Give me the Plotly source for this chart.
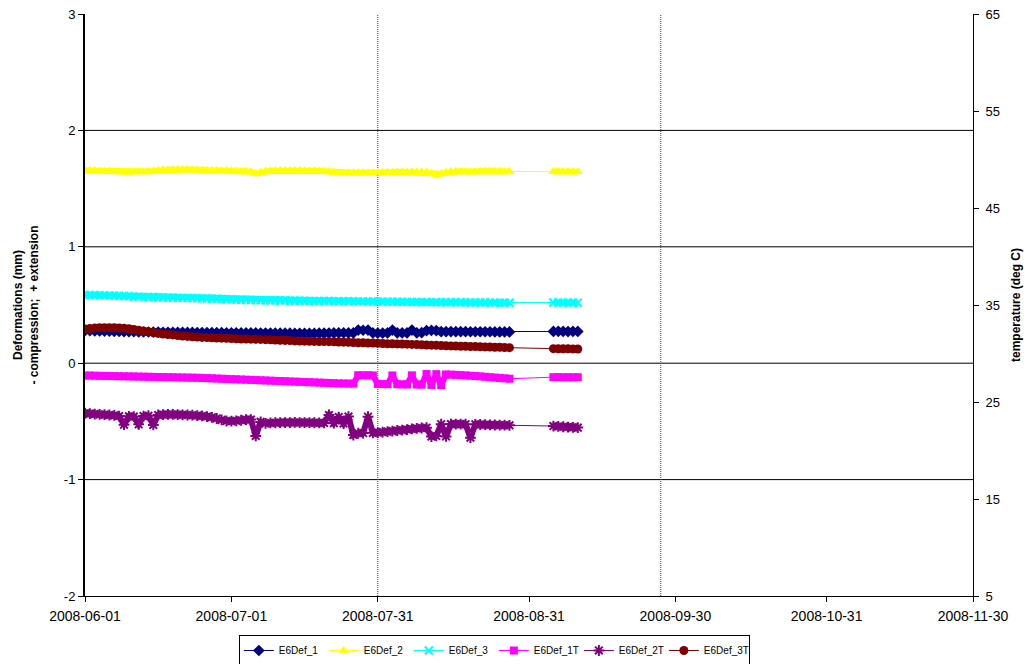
import pandas as pd
import plotly.graph_objects as go

# ---------------- data ----------------
DENSE_DATES = [d.strftime("%Y-%m-%d") for d in pd.date_range("2008-06-01", "2008-08-27", freq="D")]
LATE_DATES = [d.strftime("%Y-%m-%d") for d in pd.date_range("2008-09-05", "2008-09-10", freq="D")]
DATES = DENSE_DATES + LATE_DATES

# Deformations (mm), left axis
E6Def_1 = [
    0.280, 0.279, 0.278, 0.277, 0.276, 0.275, 0.274, 0.273, 0.272, 0.271, 0.270,
    0.269, 0.268, 0.268, 0.267, 0.267, 0.266, 0.266, 0.265, 0.265, 0.265, 0.264,
    0.264, 0.263, 0.263, 0.263, 0.262, 0.262, 0.262, 0.261, 0.261, 0.261, 0.260,
    0.260, 0.260, 0.260, 0.259, 0.259, 0.259, 0.258, 0.258, 0.258, 0.258, 0.257,
    0.257, 0.257, 0.257, 0.257, 0.258, 0.258, 0.259, 0.260, 0.260, 0.261, 0.260,
    0.260, 0.285, 0.283, 0.285, 0.260, 0.259, 0.259, 0.260, 0.285, 0.261, 0.260,
    0.260, 0.285, 0.261, 0.262, 0.280, 0.282, 0.280, 0.271, 0.271, 0.272, 0.271,
    0.271, 0.271, 0.270, 0.270, 0.270, 0.270, 0.270, 0.269, 0.269, 0.269, 0.269,
    0.273, 0.274, 0.273, 0.272, 0.273, 0.273,
]
E6Def_2 = [
    1.656, 1.655, 1.653, 1.650, 1.648, 1.647, 1.645, 1.642, 1.640, 1.638, 1.642,
    1.645, 1.645, 1.646, 1.652, 1.655, 1.660, 1.662, 1.665, 1.666, 1.665, 1.664,
    1.663, 1.662, 1.660, 1.658, 1.656, 1.655, 1.654, 1.654, 1.653, 1.652, 1.650,
    1.648, 1.645, 1.628, 1.640, 1.648, 1.652, 1.654, 1.655, 1.656, 1.656, 1.655,
    1.655, 1.654, 1.654, 1.653, 1.652, 1.650, 1.646, 1.640, 1.636, 1.634, 1.635,
    1.636, 1.637, 1.636, 1.635, 1.636, 1.637, 1.638, 1.640, 1.641, 1.642, 1.642,
    1.643, 1.643, 1.644, 1.643, 1.640, 1.632, 1.624, 1.630, 1.640, 1.646, 1.648,
    1.648, 1.646, 1.640, 1.646, 1.648, 1.649, 1.649, 1.648, 1.648, 1.647, 1.647,
    1.646, 1.647, 1.645, 1.646, 1.644, 1.644,
]
E6Def_3 = [
    0.587, 0.586, 0.585, 0.584, 0.583, 0.582, 0.580, 0.579, 0.577, 0.575, 0.573,
    0.572, 0.570, 0.569, 0.568, 0.566, 0.565, 0.564, 0.563, 0.562, 0.561, 0.560,
    0.559, 0.558, 0.557, 0.556, 0.555, 0.554, 0.552, 0.550, 0.548, 0.546, 0.545,
    0.544, 0.543, 0.542, 0.541, 0.540, 0.539, 0.539, 0.538, 0.538, 0.537, 0.537,
    0.536, 0.536, 0.535, 0.535, 0.535, 0.534, 0.534, 0.533, 0.533, 0.532, 0.532,
    0.532, 0.531, 0.531, 0.530, 0.530, 0.530, 0.529, 0.529, 0.528, 0.528, 0.527,
    0.527, 0.527, 0.526, 0.526, 0.525, 0.525, 0.525, 0.524, 0.524, 0.523, 0.523,
    0.523, 0.522, 0.522, 0.522, 0.521, 0.521, 0.521, 0.520, 0.520, 0.520, 0.519,
    0.521, 0.522, 0.520, 0.521, 0.519, 0.520,
]
# Temperatures (deg C), right axis
E6Def_1T = [
    27.72, 27.73, 27.71, 27.70, 27.69, 27.68, 27.67, 27.66, 27.65, 27.64, 27.63,
    27.62, 27.61, 27.60, 27.59, 27.58, 27.57, 27.56, 27.55, 27.54, 27.53, 27.52,
    27.51, 27.50, 27.48, 27.46, 27.44, 27.42, 27.40, 27.38, 27.36, 27.34, 27.32,
    27.30, 27.28, 27.26, 27.24, 27.22, 27.20, 27.18, 27.16, 27.14, 27.12, 27.10,
    27.08, 27.06, 27.04, 27.02, 27.00, 26.98, 26.96, 26.94, 26.92, 26.91, 26.90,
    26.89, 27.76, 27.75, 27.76, 27.74, 26.86, 26.85, 26.84, 27.74, 26.83, 26.82,
    26.81, 27.75, 26.80, 26.79, 27.88, 26.76, 27.87, 26.74, 27.84, 27.82, 27.80,
    27.77, 27.74, 27.71, 27.68, 27.64, 27.60, 27.56, 27.52, 27.48, 27.44, 27.40,
    27.56, 27.57, 27.55, 27.56, 27.55, 27.56,
]
E6Def_2T = [
    23.84, 23.80, 23.76, 23.72, 23.70, 23.66, 23.62, 23.55, 22.66, 23.52, 23.50,
    22.70, 23.55, 23.58, 22.64, 23.66, 23.70, 23.72, 23.72, 23.70, 23.68, 23.66,
    23.64, 23.60, 23.56, 23.50, 23.42, 23.30, 23.16, 23.04, 23.02, 23.06, 23.12,
    23.18, 23.19, 21.50, 22.95, 22.80, 22.84, 22.86, 22.88, 22.88, 22.88, 22.89,
    22.88, 22.88, 22.87, 22.86, 22.85, 22.84, 23.66, 22.82, 23.45, 22.78, 23.50,
    21.60, 21.78, 21.80, 23.48, 21.82, 21.85, 21.90, 21.95, 22.00, 22.06, 22.10,
    22.16, 22.22, 22.28, 22.32, 22.35, 21.44, 21.50, 22.71, 21.45, 22.72, 22.72,
    22.72, 22.71, 21.32, 22.70, 22.68, 22.66, 22.65, 22.63, 22.62, 22.61, 22.60,
    22.52, 22.48, 22.45, 22.42, 22.38, 22.36,
]
E6Def_3T = [
    32.53, 32.58, 32.62, 32.66, 32.66, 32.66, 32.65, 32.63, 32.60, 32.55, 32.48,
    32.40, 32.32, 32.24, 32.16, 32.08, 32.01, 31.96, 31.92, 31.86, 31.80, 31.76,
    31.72, 31.69, 31.66, 31.64, 31.62, 31.60, 31.58, 31.56, 31.54, 31.52, 31.50,
    31.49, 31.48, 31.46, 31.45, 31.43, 31.41, 31.39, 31.37, 31.35, 31.33, 31.30,
    31.28, 31.27, 31.26, 31.25, 31.24, 31.23, 31.22, 31.20, 31.19, 31.17, 31.15,
    31.13, 31.11, 31.10, 31.08, 31.07, 31.05, 31.03, 31.01, 31.00, 30.99, 30.98,
    30.96, 30.94, 30.92, 30.90, 30.88, 30.86, 30.84, 30.82, 30.80, 30.78, 30.77,
    30.75, 30.74, 30.72, 30.71, 30.70, 30.68, 30.67, 30.65, 30.64, 30.62, 30.60,
    30.50, 30.49, 30.48, 30.48, 30.47, 30.46,
]

X_TICKS = ["2008-06-01", "2008-07-01", "2008-07-31", "2008-08-31",
           "2008-09-30", "2008-10-31", "2008-11-30"]
Y_TICKS = [-2, -1, 0, 1, 2, 3]
Y_TICK_TEXT = ["-2", "-1", "0", "1", "2", "3"]
Y2_TICKS = [5, 15, 25, 35, 45, 55, 65]
H_GRID = [-1, 0, 1, 2]
V_GRID_DATES = ["2008-07-31", "2008-09-27"]

FONT = "Arial, 'Liberation Sans', sans-serif"
N_DENSE = len(DENSE_DATES)

series = [
    ("E6Def_1", E6Def_1, "#000080", "diamond", 9, "y"),
    ("E6Def_2", E6Def_2, "#FFFF00", "triangle-up", 9, "y"),
    ("E6Def_3", E6Def_3, "#00FFFF", "x-thin", 8, "y"),
    ("E6Def_1T", E6Def_1T, "#FF00FF", "square", 8, "y2"),
    ("E6Def_2T", E6Def_2T, "#800080", "asterisk", 9, "y2"),
    ("E6Def_3T", E6Def_3T, "#800000", "circle", 9, "y2"),
]

fig = go.Figure()
for name, vals, color, sym, size, yax in series:
    thin = sym in ("x-thin", "asterisk")
    # thick band under the dense runs of readings
    for xs, ys in ((DATES[:N_DENSE], vals[:N_DENSE]), (DATES[N_DENSE:], vals[N_DENSE:])):
        fig.add_trace(go.Scatter(
            x=xs, y=ys, mode="lines", yaxis=yax, showlegend=False, legendgroup=name,
            hoverinfo="skip", line=dict(color=color, width=6),
        ))
    fig.add_trace(go.Scatter(
        x=DATES, y=vals, name=name, mode="lines+markers", yaxis=yax, legendgroup=name,
        line=dict(color=color, width=1),
        marker=dict(symbol=sym, size=size, color=color,
                    line=dict(color=color, width=2 if thin else 0)),
    ))

shapes = []
for v in H_GRID:
    shapes.append(dict(type="line", xref="paper", yref="y", x0=0, x1=1, y0=v, y1=v,
                       line=dict(color="black", width=1), layer="below"))
for d in V_GRID_DATES:
    shapes.append(dict(type="line", xref="x", yref="paper", x0=d, x1=d, y0=0, y1=1,
                       line=dict(color="#444444", width=1, dash="1px,1px"), layer="below"))

fig.update_layout(
    width=1027, height=664,
    margin=dict(l=85, r=54, t=14, b=68),
    paper_bgcolor="white", plot_bgcolor="white",
    font=dict(family=FONT, size=13, color="black"),
    showlegend=True,
    legend=dict(orientation="h", x=0.461, xanchor="center",
                yref="container", y=0.0437, yanchor="top",
                bordercolor="black", borderwidth=1, font=dict(size=10),
                itemwidth=30, tracegroupgap=0, entrywidth=40),
    shapes=shapes,
    xaxis=dict(type="date", range=["2008-06-01", "2008-11-30"],
               tickvals=X_TICKS, ticktext=X_TICKS, tickfont=dict(size=14),
               showgrid=False, zeroline=False, showline=True, linecolor="black", linewidth=1,
               ticks="outside", ticklen=5, tickcolor="black", automargin=False,
               ticklabelstandoff=2),
    yaxis=dict(range=[-2, 3], tickvals=Y_TICKS, ticktext=Y_TICK_TEXT,
               showgrid=False, zeroline=False,
               showline=True, linecolor="black", linewidth=2,
               ticks="outside", ticklen=5, tickcolor="black", automargin=False,
               title=dict(text="<b>Deformations (mm)<br>- compression;  + extension</b>",
                          font=dict(size=12), standoff=23)),
    yaxis2=dict(range=[5, 65], tickvals=Y2_TICKS, overlaying="y", side="right",
                showgrid=False, zeroline=False, showline=True, linecolor="black", linewidth=1,
                ticks="outside", ticklen=5, tickcolor="black", automargin=False,
                ticklabelstandoff=4,
                title=dict(text="<b>temperature (deg C)</b>", font=dict(size=12), standoff=12)),
)

fig.write_html("out.html", config={"displayModeBar": False},
               post_script="document.body.style.margin='0';document.body.style.overflow='hidden';")
